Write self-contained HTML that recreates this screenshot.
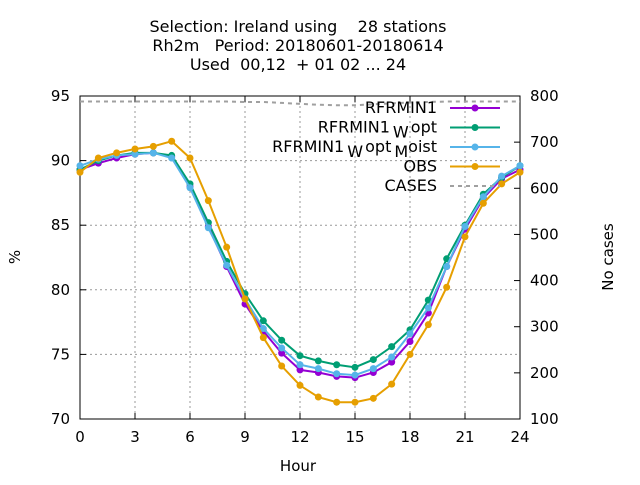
<!DOCTYPE html>
<html><head><meta charset="utf-8"><style>
body{margin:0;background:#fff}
svg text{font-family:"DejaVu Sans","Liberation Sans",sans-serif;font-size:15px;fill:#000}
svg .big{font-size:16px}
</style></head><body>
<svg width="640" height="480" xmlns="http://www.w3.org/2000/svg">
<g id="grid"></g>
<g id="axes"></g>
<g id="series"></g>
<g text-anchor="middle">
<text class="big" x="298" y="32" xml:space="preserve">Selection: Ireland using    28 stations</text>
<text class="big" x="298" y="51" xml:space="preserve">Rh2m   Period: 20180601-20180614</text>
<text class="big" x="298" y="70" xml:space="preserve">Used  00,12  + 01 02 ... 24</text>
</g>
<text x="298" y="471" text-anchor="middle">Hour</text>
<text transform="translate(20,257) rotate(-90)" text-anchor="middle">%</text>
<text transform="translate(613,257) rotate(-90)" text-anchor="middle">No cases</text>
<g id="legend"></g>
</svg>
<script>
const hours=[0,1,2,3,4,5,6,7,8,9,10,11,12,13,14,15,16,17,18,19,20,21,22,23,24];
const rfrmin1=[89.3,89.8,90.2,90.5,90.6,90.3,88.0,84.9,81.8,78.9,76.8,75.1,73.8,73.6,73.3,73.2,73.6,74.4,76.0,78.2,81.8,84.7,87.1,88.6,89.3];
const wopt=[89.3,90.0,90.4,90.6,90.6,90.4,88.2,85.2,82.2,79.7,77.6,76.1,74.9,74.5,74.2,74.0,74.6,75.6,76.9,79.2,82.4,85.0,87.4,88.7,89.6];
const moist=[89.6,90.1,90.4,90.5,90.6,90.2,87.9,84.8,81.9,79.3,77.0,75.5,74.2,73.9,73.5,73.4,73.9,74.8,76.6,78.6,81.8,84.9,87.2,88.8,89.6];
const obs=[89.1,90.2,90.6,90.9,91.1,91.5,90.2,86.9,83.3,79.3,76.3,74.1,72.6,71.7,71.3,71.3,71.6,72.7,75.0,77.3,80.2,84.1,86.7,88.2,89.1];
const cases=[788,788,788,788,788,788,788,788,788,787,787,785,783,781,780,780,782,784,786,787,788,788,788,788,788];
const xTicks=[0,3,6,9,12,15,18,21,24];
const yTicks=[70,75,80,85,90,95];
const y2Ticks=[100,200,300,400,500,600,700,800];
const L=80,R=520,T=96,B=419;
const X=h=>L+(R-L)*h/24;
const Y=v=>B-(B-T)*(v-70)/25;
const Y2=v=>B-(B-T)*(v-100)/700;
const NS="http://www.w3.org/2000/svg";
function mk(p,tag,at){const e=document.createElementNS(NS,tag);for(const k in at)e.setAttribute(k,at[k]);p.appendChild(e);return e;}
const grid=document.getElementById('grid'),axes=document.getElementById('axes'),ser=document.getElementById('series'),leg=document.getElementById('legend');
xTicks.forEach(t=>{
 if(t>0&&t<24){const g=mk(grid,'line',{x1:X(t),x2:X(t),y1:T,y2:B,stroke:'#999','stroke-dasharray':'2,3','stroke-width':1});}
 mk(axes,'line',{x1:X(t),x2:X(t),y1:B,y2:B-6,stroke:'#000'});mk(axes,'line',{x1:X(t),x2:X(t),y1:T,y2:T+6,stroke:'#000'});
 const tx=mk(axes,'text',{x:X(t),y:B+23,'text-anchor':'middle'});tx.textContent=t;
 
});
yTicks.forEach(t=>{
 if(t>70&&t<95){const g=mk(grid,'line',{x1:L,x2:R,y1:Y(t),y2:Y(t),stroke:'#999','stroke-dasharray':'2,3'});}
 mk(axes,'line',{x1:L,x2:L+6,y1:Y(t),y2:Y(t),stroke:'#000'});
 const tx=mk(axes,'text',{x:L-10,y:Y(t)+5,'text-anchor':'end'});tx.textContent=t;
 
});
y2Ticks.forEach(t=>{
 mk(axes,'line',{x1:R,x2:R-6,y1:Y2(t),y2:Y2(t),stroke:'#000'});
 const tx=mk(axes,'text',{x:R+10,y:Y2(t)+5,'text-anchor':'start'});tx.textContent=t;
 
});
mk(axes,'rect',{x:L,y:T,width:R-L,height:B-T,fill:'none',stroke:'#000'});
const cp=mk(ser,'polyline',{points:hours.map((h,i)=>X(h)+','+Y2(cases[i])).join(' '),fill:'none',stroke:'#a0a0a0','stroke-width':2,'stroke-dasharray':'4,4'});

const S=[['rfrmin1',rfrmin1,'#9400d3'],['wopt',wopt,'#009e73'],['moist',moist,'#56b4e9'],['obs',obs,'#e69f00']];
S.forEach(([n,d,c])=>{
 const g=mk(ser,'g',{});
 mk(g,'polyline',{points:hours.map((h,i)=>X(h)+','+Y(d[i])).join(' '),fill:'none',stroke:c,'stroke-width':2});
 hours.forEach((h,i)=>{const p=mk(g,'circle',{cx:X(h),cy:Y(d[i]),r:3.5,fill:c});});
});
const items=[['RFRMIN1','#9400d3',false],['RFRMIN1','#009e73',false],['RFRMIN1','#56b4e9',false],['OBS','#e69f00',false],['CASES','#a0a0a0',true]];
items.forEach((it,i)=>{
 const y=108+i*19.5;
 const g=mk(leg,'g',{});
 const t=mk(g,'text',{x:437,y:y+5,'text-anchor':'end',class:'big'});
 if(i==1){t.innerHTML='RFRMIN1<tspan dx="3" dy="5">W</tspan><tspan dx="3" dy="-5">opt</tspan>';}
 else if(i==2){t.innerHTML='RFRMIN1<tspan dx="3" dy="5">W</tspan><tspan dx="3" dy="-5">opt</tspan><tspan dx="3" dy="5">M</tspan><tspan dy="-5">oist</tspan>';}
 else t.textContent=it[0];
 if(it[2]) mk(g,'line',{x1:450,x2:500,y1:y,y2:y,stroke:it[1],'stroke-width':2,'stroke-dasharray':'4,4'});
 else {mk(g,'line',{x1:450,x2:500,y1:y,y2:y,stroke:it[1],'stroke-width':2});mk(g,'circle',{cx:475,cy:y,r:3.5,fill:it[1]});}
});
</script>
</body></html>
